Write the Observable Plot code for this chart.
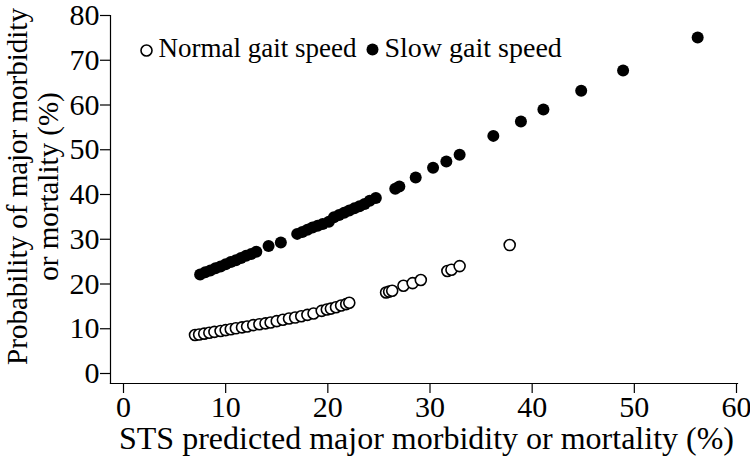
<!DOCTYPE html>
<html>
<head>
<meta charset="utf-8">
<script src="https://cdn.jsdelivr.net/npm/d3@7"></script>
<script src="https://cdn.jsdelivr.net/npm/@observablehq/plot@0.6"></script>
<style>
  html, body { margin: 0; padding: 0; background: white; }
</style>
</head>
<body>
<div id="chart"></div>
<script>
// Normal gait speed (open circles)
const normalX = [7.0, 7.4, 7.9, 8.4, 8.9, 9.5, 10.0, 10.5, 11.0, 11.6, 12.1, 12.7, 13.3, 13.9, 14.4, 15.0, 15.6, 16.2, 16.8, 17.4, 18.0, 18.6, 19.4, 19.9, 20.3, 20.8, 21.3, 21.8, 22.1, 25.7, 26.0, 26.3, 27.4, 28.3, 29.1, 31.7, 32.1, 32.9, 37.8];
const normalY = [8.6, 8.7, 8.9, 9.1, 9.3, 9.5, 9.7, 9.9, 10.1, 10.3, 10.5, 10.8, 11.0, 11.2, 11.4, 11.7, 12.0, 12.3, 12.5, 12.8, 13.1, 13.4, 14.0, 14.3, 14.5, 14.8, 15.2, 15.5, 15.8, 18.1, 18.3, 18.5, 19.6, 20.2, 20.9, 22.9, 23.2, 24.0, 28.7];
// Slow gait speed (filled circles)
const slowX = [7.5, 8.0, 8.5, 9.0, 9.5, 10.0, 10.5, 11.0, 11.5, 12.0, 12.5, 13.0, 14.2, 15.4, 17.0, 17.5, 18.0, 18.5, 19.0, 19.5, 20.1, 20.6, 21.1, 21.6, 22.1, 22.6, 23.1, 23.6, 24.1, 24.7, 26.6, 27.0, 28.6, 30.3, 31.6, 32.9, 36.2, 38.9, 41.1, 44.8, 48.9, 56.2];
const slowY = [22.1, 22.6, 23.0, 23.5, 23.9, 24.4, 24.9, 25.3, 25.8, 26.3, 26.7, 27.2, 28.5, 29.3, 31.2, 31.6, 32.1, 32.6, 33.0, 33.4, 33.9, 34.9, 35.4, 35.9, 36.4, 36.9, 37.4, 37.9, 38.6, 39.2, 41.3, 41.8, 43.8, 46.0, 47.4, 48.9, 53.1, 56.3, 59.0, 63.2, 67.7, 75.1];

const xTicks = [0, 10, 20, 30, 40, 50, 60];
const yTicks = [0, 10, 20, 30, 40, 50, 60, 70, 80];
const xTitle = "STS predicted major morbidity or mortality (%)";
const yTitle = "Probability of major morbidity\nor mortality (%)";
const legendLabels = ["Normal gait speed", "Slow gait speed"];

const normal = normalX.map((x, i) => ({x, y: normalY[i]}));
const slow = slowX.map((x, i) => ({x, y: slowY[i]}));

const font = "'Liberation Serif', 'Times New Roman', serif";

const chart = Plot.plot({
  width: 750,
  height: 461,
  marginLeft: 110,
  marginRight: 13,
  marginTop: 15,
  marginBottom: 78,
  style: {fontFamily: font, fontSize: "30px", color: "black", background: "white", overflow: "visible"},
  x: {domain: [0, 60], range: [123, 736]},
  y: {domain: [0, 80], range: [373, 15]},
  marks: [
    Plot.frame({anchor: "bottom", stroke: "black", strokeWidth: 1.2}),
    Plot.frame({anchor: "left", stroke: "black", strokeWidth: 1.2}),
    Plot.axisX({ticks: xTicks, tickSize: 10, tickPadding: 2, fontSize: 30, label: null, strokeWidth: 1.2}),
    Plot.axisY({ticks: yTicks, tickSize: 10, tickPadding: 1, fontSize: 30, label: null, strokeWidth: 1.2}),
    Plot.dot(normal, {x: "x", y: "y", r: 5.5, fill: "white", stroke: "black", strokeWidth: 1.6}),
    Plot.dot(slow, {x: "x", y: "y", r: 6, fill: "black", stroke: "none"}),
    // legend
    Plot.dot([legendLabels[0]], {frameAnchor: "top-left", dx: 36, dy: 35, r: 5.5, fill: "white", stroke: "black", strokeWidth: 1.6}),
    Plot.text([legendLabels[0]], {frameAnchor: "top-left", dx: 48, dy: 33, text: d => d, textAnchor: "start", lineAnchor: "middle", fontSize: 27, fill: "black"}),
    Plot.dot([legendLabels[1]], {frameAnchor: "top-left", dx: 262, dy: 34, r: 6, fill: "black"}),
    Plot.text([legendLabels[1]], {frameAnchor: "top-left", dx: 274, dy: 33, text: d => d, textAnchor: "start", lineAnchor: "middle", fontSize: 28, fill: "black"}),
    // axis titles
    Plot.text([xTitle], {frameAnchor: "bottom", dx: 2.5, dy: 55, text: d => d, textAnchor: "middle", lineAnchor: "middle", fontSize: 32, fill: "black"}),
    Plot.text([yTitle], {frameAnchor: "left", dx: -78, dy: -13, rotate: -90, text: d => d, textAnchor: "middle", lineAnchor: "middle", lineHeight: 1.07, fontSize: 29, fill: "black"})
  ]
});
document.getElementById("chart").append(chart);
</script>
</body>
</html>
